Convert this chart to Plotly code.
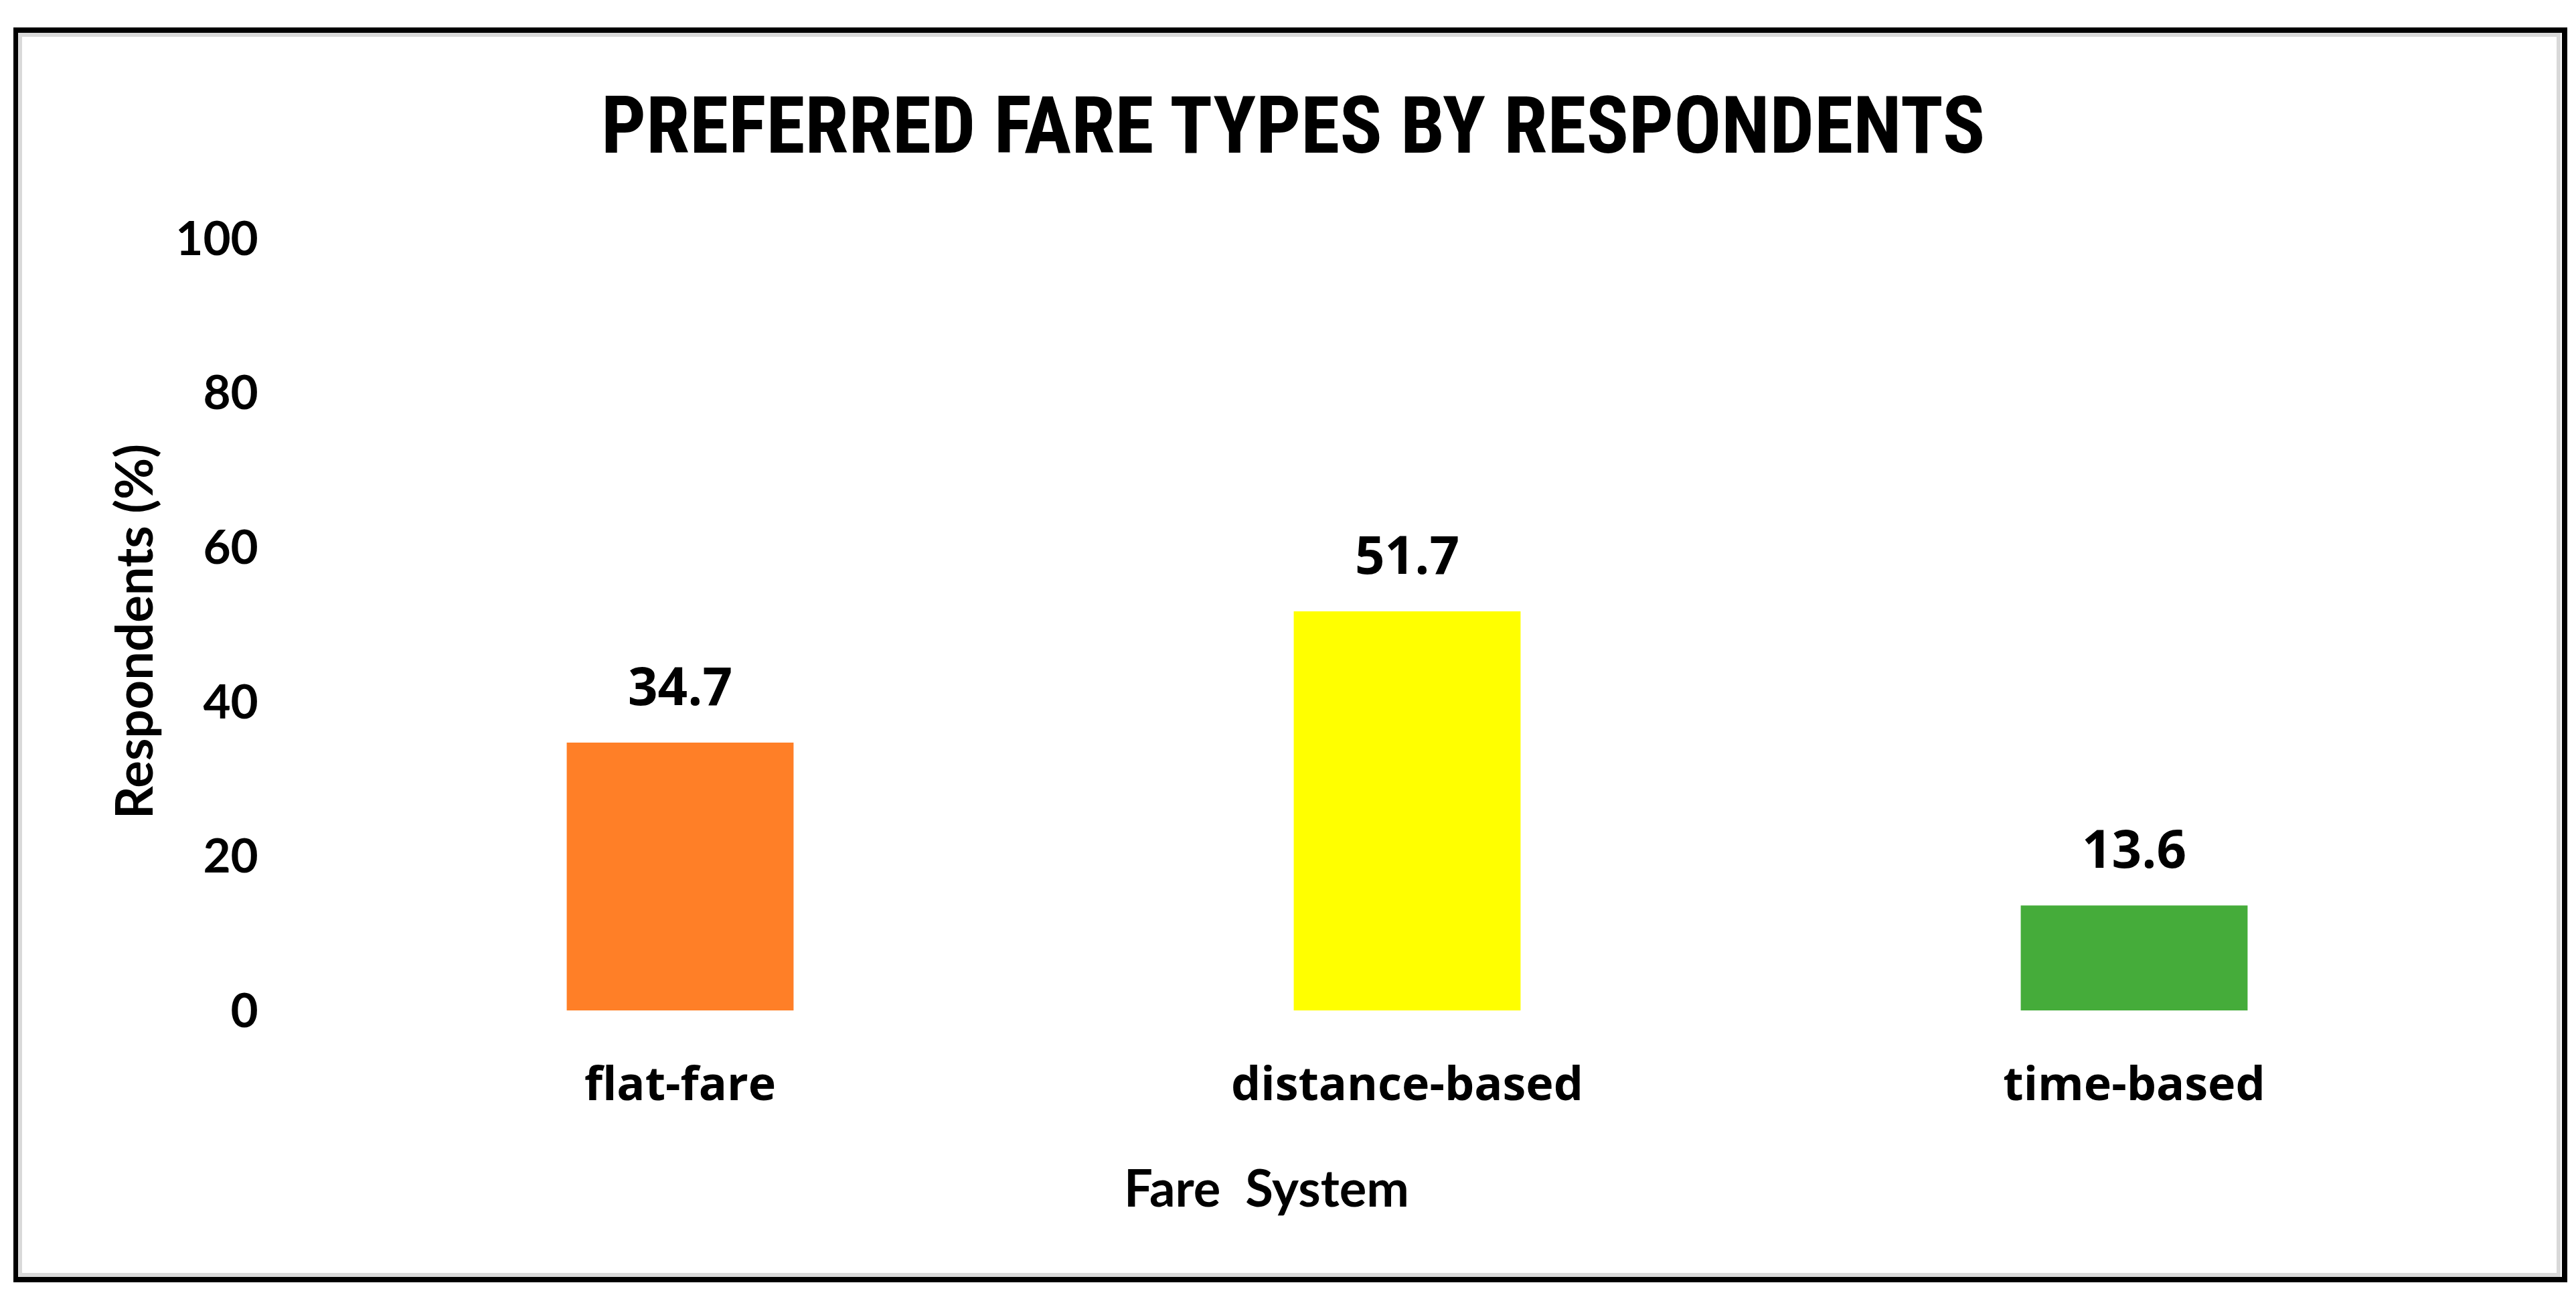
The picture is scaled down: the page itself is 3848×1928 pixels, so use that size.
import plotly.graph_objects as go

# data
fare_types = ["flat-fare", "distance-based", "time-based"]
respondents_pct = [34.7, 51.7, 13.6]
bar_colors = ["#FF7F27", "#FFFF00", "#45AC3A"]
y_ticks = [0, 20, 40, 60, 80, 100]

W, H = 3848, 1928
LATO = "Lato, 'Open Sans', sans-serif"
OPEN = "'Open Sans', Lato, sans-serif"
TITLE_FONT = "'Liberation Sans Narrow', 'Roboto Condensed', 'Liberation Sans', sans-serif"

fig = go.Figure()
fig.add_trace(
    go.Bar(
        x=fare_types,
        y=respondents_pct,
        marker=dict(color=bar_colors, line=dict(width=0)),
        width=0.312,
        hoverinfo="x+y",
        showlegend=False,
    )
)

# value labels above bars
for cat, val in zip(fare_types, respondents_pct):
    fig.add_annotation(
        x=cat, y=val, text=f"{val:.1f}", showarrow=False,
        yshift=86, yanchor="middle",
        font=dict(family=OPEN, size=78, color="black", weight="bold"),
    )

fig.update_layout(
    width=W,
    height=H,
    autosize=False,
    margin=dict(l=0, r=0, t=0, b=0, autoexpand=False),
    paper_bgcolor="white",
    plot_bgcolor="white",
    xaxis=dict(
        domain=[465 / W, 3723 / W],
        automargin=False,
        showgrid=False, zeroline=False, showline=False,
        ticks="outside", ticklen=49, tickcolor="rgba(0,0,0,0)",
        tickfont=dict(family=OPEN, size=70, color="black", weight="bold"),
    ),
    yaxis=dict(
        domain=[(H - 1501) / H, (H - 348) / H],
        automargin=False,
        range=[0, 100],
        tickvals=y_ticks,
        showgrid=False, zeroline=False, showline=False,
        ticks="outside", ticklen=72, tickcolor="rgba(0,0,0,0)",
        tickfont=dict(family=LATO, size=71, color="black", weight="bold"),
    ),
    shapes=[
        # chart frame
        dict(type="rect", xref="paper", yref="paper",
             x0=16 / W, x1=3823 / W, y0=1 - 37 / H, y1=1 - 1903 / H,
             line=dict(color="black", width=8), layer="below"),
        dict(type="rect", xref="paper", yref="paper",
             x0=22 / W, x1=3814 / W, y0=1 - 44 / H, y1=1 - 1896 / H,
             line=dict(color="#d9d9d9", width=6), layer="below"),
    ],
)

# chart title
fig.add_annotation(
    xref="paper", yref="paper", x=0.5, y=1 - 180 / H,
    text="PREFERRED FARE TYPES BY RESPONDENTS", showarrow=False,
    xanchor="center", yanchor="middle",
    font=dict(family=TITLE_FONT, size=118, color="black", weight="bold"),
)

# axis titles
fig.add_annotation(
    xref="paper", yref="paper", x=1884 / W, y=1 - 1764 / H,
    text="Fare  System", showarrow=False,
    xanchor="center", yanchor="middle",
    font=dict(family=LATO, size=76, color="black", weight="bold"),
)
fig.add_annotation(
    xref="paper", yref="paper", x=190 / W, y=1 - 935 / H,
    text="Respondents (%)", showarrow=False, textangle=-90,
    xanchor="center", yanchor="middle",
    font=dict(family=LATO, size=76, color="black", weight="bold"),
)

fig.write_html("out.html")
